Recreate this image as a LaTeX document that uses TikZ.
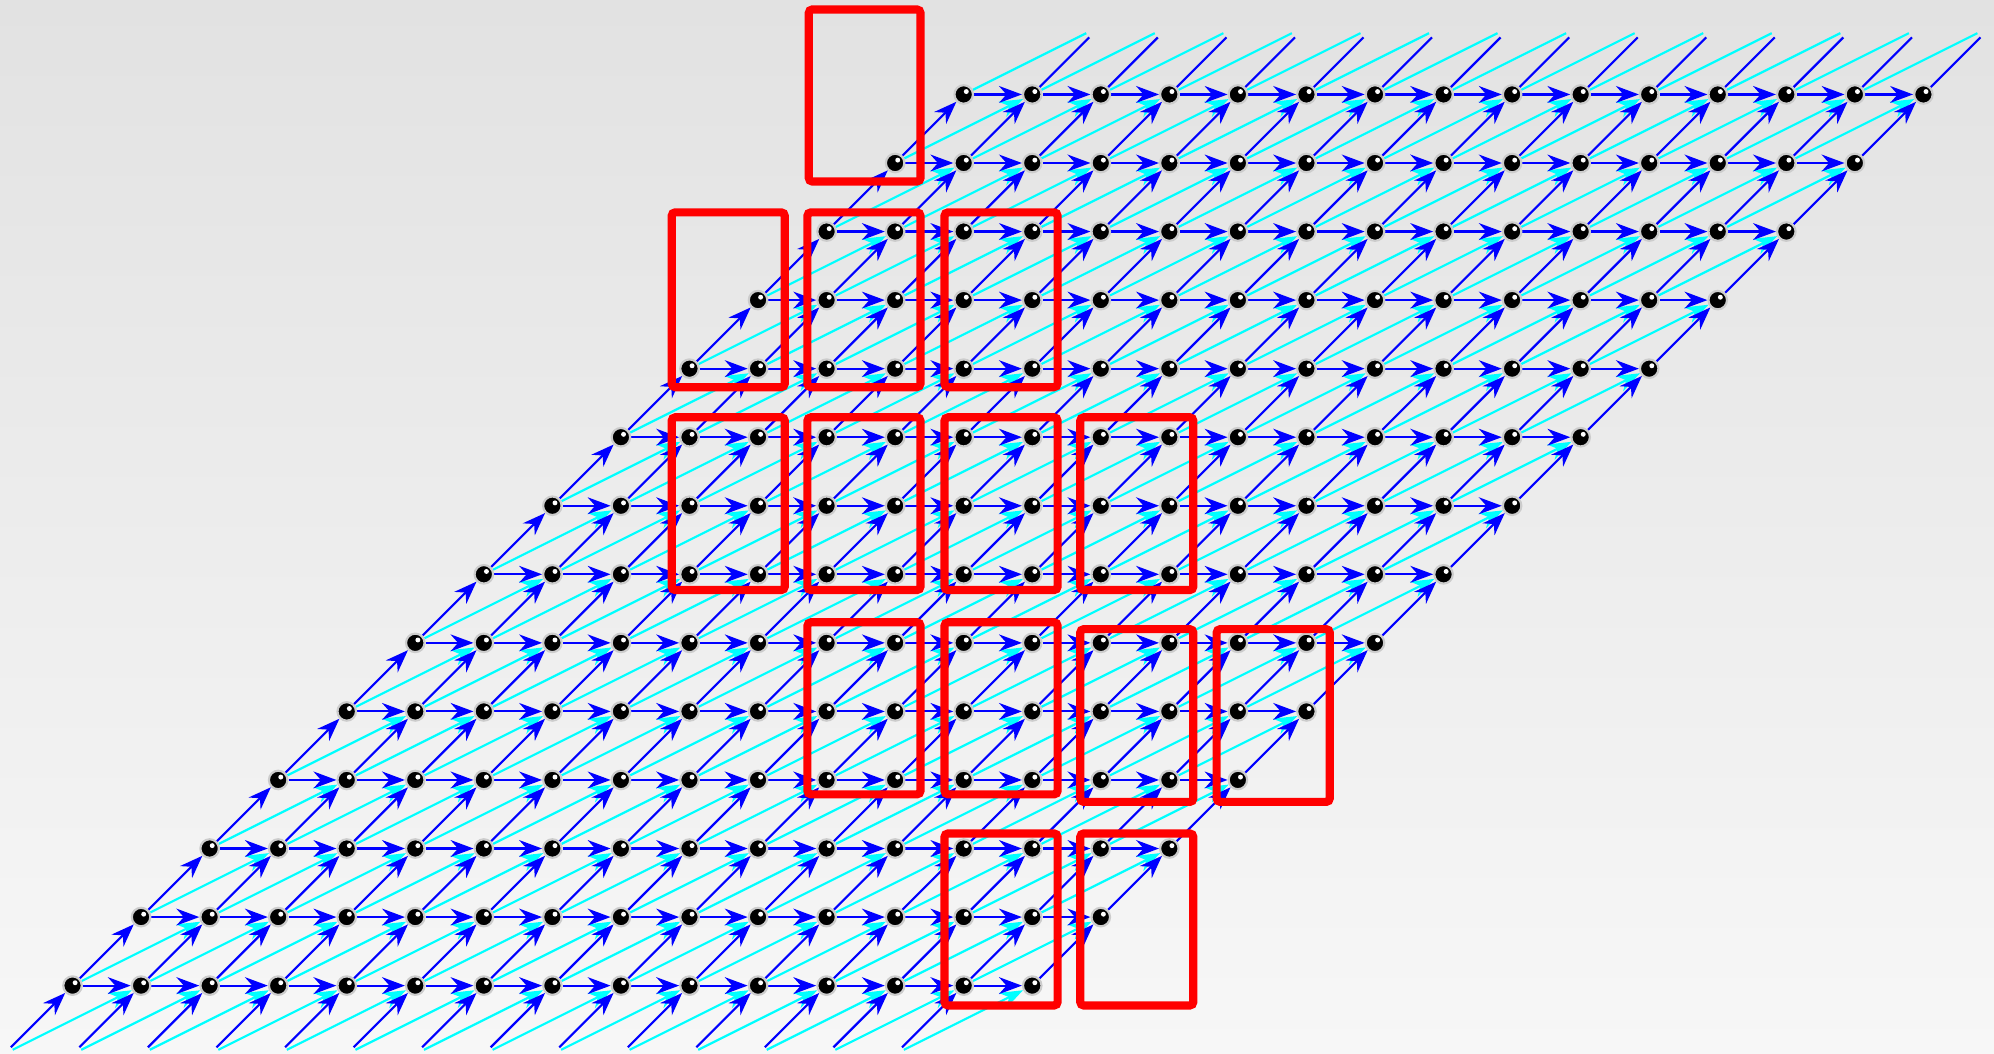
\documentclass[tikz,border=0pt]{standalone}
\usetikzlibrary{arrows.meta}
\pgfdeclarelayer{back}
\pgfdeclarelayer{edges}
\pgfsetlayers{back,edges,main}
\definecolor{bgtop}{HTML}{E2E2E2}
\definecolor{bgbot}{HTML}{F7F7F7}
\definecolor{aqua}{RGB}{0,255,255}
\definecolor{pureblue}{RGB}{0,0,255}

\begin{document}
\begin{tikzpicture}[>={Stealth[length=9.5pt,width=7pt]}]
	\tikzstyle{ball}=[circle, fill=black, draw=gray!40, line width=0.9pt, minimum size=0.27cm, inner sep=0pt,
		path picture={\fill[white] ([shift={(0.038,0.042)}]path picture bounding box.center) circle (0.036);}]
	\tikzstyle{ghost}=[circle, minimum size=0.27cm, inner sep=0pt]
	\tikzstyle{topghost}=[circle, minimum size=0.46cm, inner sep=0pt]
	\tikzstyle{bl}=[draw=pureblue, line width=0.9pt]
	\tikzstyle{cy}=[draw=aqua, line width=0.9pt]
	\tikzstyle{box}=[draw=red, line width=3.4pt, rounded corners=1.5pt]
	\useasboundingbox (-1.058,-0.983) rectangle (28.03,14.378);
	\begin{pgfonlayer}{back}
		\shade[top color=bgtop, bottom color=bgbot] (-1.058,-0.983) rectangle (28.03,14.378);
	\end{pgfonlayer}
	% lattice
	\foreach \i in {0,...,14}
		\foreach \j in {0,...,13}
			\node[ball] (n-\i-\j) at ({\i+\j},\j) {};
	\foreach \i in {0,...,13} \node[ghost] (b-\i) at ({\i-1},-1) {};
	\foreach \i in {1,...,14} \node[topghost] (t-\i) at ({\i+14},14) {};
	\begin{pgfonlayer}{edges}
		% cyan steps
		\foreach \i in {0,...,13} {
			\pgfmathtruncatemacro{\nx}{\i+1}
			\foreach \j in {0,...,12} {
				\pgfmathtruncatemacro{\up}{\j+1}
				\draw[cy,->] (n-\i-\j) -- (n-\nx-\up);
			}
			\draw[cy,->] (b-\i) -- (n-\nx-0);
			\draw[cy] (n-\i-13) -- (t-\nx);
		}
		% blue diagonals
		\foreach \i in {0,...,14}
			\foreach \j in {0,...,12} {
				\pgfmathtruncatemacro{\up}{\j+1}
				\draw[bl,->] (n-\i-\j) -- (n-\i-\up);
			}
		\foreach \i in {0,...,13} \draw[bl,->] (b-\i) -- (n-\i-0);
		\foreach \i in {1,...,14} \draw[bl] (n-\i-13) -- (t-\i);
		% blue rows
		\foreach \i in {0,...,13} {
			\pgfmathtruncatemacro{\nx}{\i+1}
			\foreach \j in {0,...,13}
				\draw[bl,->] (n-\i-\j) -- (n-\nx-\j);
		}
	\end{pgfonlayer}
	% red frames
	\foreach \xa/\ya/\xb/\yb in {10.74/11.73/12.37/14.24,
			8.74/8.73/10.39/11.28, 10.72/8.73/12.37/11.28, 12.72/8.73/14.37/11.28,
			8.74/5.77/10.39/8.29, 10.72/5.77/12.37/8.29, 12.72/5.77/14.37/8.29, 14.70/5.77/16.35/8.29,
			10.72/2.79/12.37/5.30, 12.72/2.79/14.37/5.30, 14.70/2.68/16.35/5.20, 16.69/2.68/18.34/5.20,
			12.72/-0.29/14.37/2.22, 14.70/-0.29/16.35/2.22}
		\draw[box] (\xa,\ya) rectangle (\xb,\yb);
\end{tikzpicture}
\end{document}
